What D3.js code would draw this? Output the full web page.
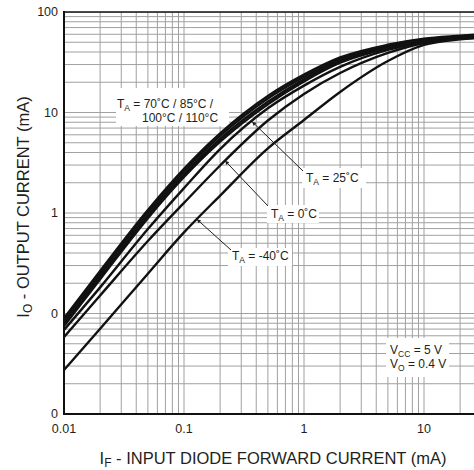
<!DOCTYPE html>
<html>
<head>
<meta charset="utf-8">
<script src="https://cdn.jsdelivr.net/npm/d3@7"></script>
<style>
  body { margin: 0; background: #fff; }
  svg { display: block; font-family: "Liberation Sans", Arial, sans-serif; }
</style>
</head>
<body>
<div id="chart"></div>
<script>
// input diode forward current (mA)
const forwardCurrent = [0.01, 0.02, 0.05, 0.1, 0.2, 0.5, 1, 2, 5, 10, 20, 30];

// output current (mA) for each ambient temperature
const io110 = [0.090, 0.265, 1.07, 2.75, 6.20, 14.6, 23.8, 35.3, 47.2, 54.3, 58.1, 60.2];
const io100 = [0.085, 0.249, 1.01, 2.59, 5.84, 13.8, 22.6, 34.0, 46.0, 53.2, 57.0, 59.0];
const io85  = [0.079, 0.233, 0.944, 2.42, 5.45, 12.8, 21.4, 32.6, 44.8, 52.2, 55.8, 57.8];
const io70  = [0.075, 0.219, 0.889, 2.28, 5.13, 12.1, 20.4, 31.3, 43.6, 51.1, 54.7, 56.6];
const io25  = [0.0686, 0.182, 0.693, 1.77, 4.33, 11.0, 18.5, 28.4, 41.9, 49.8, 54.5, 56.3];
const io0   = [0.0583, 0.151, 0.526, 1.26, 2.97, 8.32, 15.3, 24.7, 39.1, 49.2, 54.0, 56.0];
const ioM40 = [0.0274, 0.0706, 0.249, 0.641, 1.49, 4.40, 8.42, 16.0, 32.5, 47.0, 53.4, 55.5];

const seriesList = [io110, io100, io85, io70, io25, io0, ioM40];

// tick labels as printed on the sheet
const xTickValues = [0.01, 0.1, 1, 10];
const xTickLabels = ["0.01", "0.1", "1", "10"];
const yTickValues = [0.01, 0.1, 1, 10, 100];
const yTickLabels = ["0", "0", "1", "10", "100"];

function main() {
    const W = 474, H = 470;
    const left = 64, top = 12, bottom = 414, decadeX = 120;

    const svg = d3.select("#chart")
        .append("svg")
        .attr("width", W)
        .attr("height", H);

    const x = d3.scaleLog()
        .domain([0.01, 100])
        .range([left, left + 4 * decadeX]);
    const y = d3.scaleLog()
        .domain([0.01, 100])
        .range([bottom, top]);

    svg.append("defs").append("clipPath")
        .attr("id", "plot")
        .append("rect")
        .attr("x", left).attr("y", top)
        .attr("width", W - left).attr("height", bottom - top);

    svg.select("defs").append("marker")
        .attr("id", "arrow")
        .attr("viewBox", "0 0 10 10")
        .attr("refX", 10).attr("refY", 5)
        .attr("markerWidth", 8).attr("markerHeight", 4)
        .attr("markerUnits", "userSpaceOnUse")
        .attr("orient", "auto")
        .append("path")
        .attr("d", "M0,0 L10,5 L0,10 z")
        .attr("fill", "#231f20");

    // grid
    const grid = svg.append("g")
        .attr("clip-path", "url(#plot)")
        .attr("stroke", "#a0a0a0")
        .attr("stroke-width", 1);
    grid.selectAll(".vx")
        .data(x.ticks())
        .enter().append("line")
        .attr("x1", d => x(d)).attr("x2", d => x(d))
        .attr("y1", top).attr("y2", bottom);
    grid.selectAll(".hy")
        .data(y.ticks())
        .enter().append("line")
        .attr("y1", d => y(d)).attr("y2", d => y(d))
        .attr("x1", left).attr("x2", W);

    // white boxes behind the notes
    const boxes = [
        [116, 88, 113, 38],
        [302, 168, 64, 20],
        [267, 205, 52, 18],
        [228, 248, 64, 18],
        [386, 338, 63, 39]
    ];
    svg.append("g").selectAll("rect")
        .data(boxes)
        .enter().append("rect")
        .attr("x", d => d[0]).attr("y", d => d[1])
        .attr("width", d => d[2]).attr("height", d => d[3])
        .attr("fill", "#fff");

    // curves
    const line = d3.line()
        .x((d, i) => x(forwardCurrent[i]))
        .y(d => y(d))
        .curve(d3.curveMonotoneX);

    svg.append("g")
        .attr("clip-path", "url(#plot)")
        .selectAll("path")
        .data(seriesList)
        .enter().append("path")
        .attr("d", line)
        .attr("fill", "none")
        .attr("stroke", "#111")
        .attr("stroke-width", 2.4)
        .attr("stroke-linejoin", "round");

    // frame
    svg.append("line")
        .attr("x1", left).attr("x2", W).attr("y1", top).attr("y2", top)
        .attr("stroke", "#111").attr("stroke-width", 1.6);
    svg.append("line")
        .attr("x1", left).attr("x2", W).attr("y1", bottom).attr("y2", bottom)
        .attr("stroke", "#111").attr("stroke-width", 2);
    svg.append("line")
        .attr("x1", left).attr("x2", left).attr("y1", top - 1).attr("y2", bottom + 1)
        .attr("stroke", "#111").attr("stroke-width", 2);

    // tick labels
    svg.append("g").selectAll("text")
        .data(xTickValues)
        .enter().append("text")
        .attr("x", d => x(d))
        .attr("y", 433)
        .attr("text-anchor", "middle")
        .attr("font-size", 12.5)
        .attr("fill", "#231f20")
        .text((d, i) => xTickLabels[i]);
    svg.append("g").selectAll("text")
        .data(yTickValues)
        .enter().append("text")
        .attr("x", 58)
        .attr("y", d => y(d))
        .attr("dy", "0.33em")
        .attr("text-anchor", "end")
        .attr("font-size", 12.5)
        .attr("fill", "#231f20")
        .text((d, i) => yTickLabels[i]);

    // axis titles
    const xt = svg.append("text")
        .attr("x", 273).attr("y", 464)
        .attr("text-anchor", "middle")
        .attr("font-size", 16.5)
        .attr("fill", "#231f20");
    xt.append("tspan").text("I");
    xt.append("tspan").attr("font-size", 12).attr("dy", 3).text("F");
    xt.append("tspan").attr("dy", -3).text(" - INPUT DIODE FORWARD CURRENT (mA)");

    const yt = svg.append("text")
        .attr("transform", "translate(29,207) rotate(-90)")
        .attr("text-anchor", "middle")
        .attr("font-size", 16.5)
        .attr("fill", "#231f20");
    yt.append("tspan").text("I");
    yt.append("tspan").attr("font-size", 12).attr("dy", 3).text("O");
    yt.append("tspan").attr("dy", -3).text(" - OUTPUT CURRENT (mA)");

    // value of a series at a given current (log-log)
    function along(series, xv) {
        const lx = Math.log10(xv);
        for (let i = 0; i < forwardCurrent.length - 1; i++) {
            const a = Math.log10(forwardCurrent[i]), b = Math.log10(forwardCurrent[i + 1]);
            if (lx >= a && lx <= b) {
                const t = (lx - a) / (b - a);
                return Math.pow(10, Math.log10(series[i]) * (1 - t) + Math.log10(series[i + 1]) * t);
            }
        }
        return series[series.length - 1];
    }

    // leader lines with arrows
    const leaders = [
        {from: [303, 171], series: io25, at: 0.37},
        {from: [268, 206], series: io0, at: 0.22},
        {from: [231, 250], series: ioM40, at: 0.128}
    ];
    svg.append("g").selectAll("line")
        .data(leaders)
        .enter().append("line")
        .attr("x1", d => d.from[0]).attr("y1", d => d.from[1])
        .attr("x2", d => x(d.at)).attr("y2", d => y(along(d.series, d.at)))
        .attr("stroke", "#231f20")
        .attr("stroke-width", 1)
        .attr("marker-end", "url(#arrow)");

    // notes
    function note(px, py, pre, sub, post) {
        const t = svg.append("text")
            .attr("x", px).attr("y", py)
            .attr("font-size", 12)
            .attr("fill", "#231f20");
        t.append("tspan").text(pre);
        if (sub) {
            t.append("tspan").attr("font-size", 8.5).attr("dy", 3).text(sub);
            t.append("tspan").attr("dy", -3).text(post);
        }
    }
    note(117, 108, "T", "A", " = 70˚C / 85°C /");
    note(142, 122, "100°C / 110°C");
    note(306, 182, "T", "A", " = 25˚C");
    note(271, 218, "T", "A", " = 0˚C");
    note(232, 260, "T", "A", " = -40˚C");
    note(390, 354, "V", "CC", " = 5 V");
    note(390, 368, "V", "O", " = 0.4 V");
}

main()
</script>
</body>
</html>
